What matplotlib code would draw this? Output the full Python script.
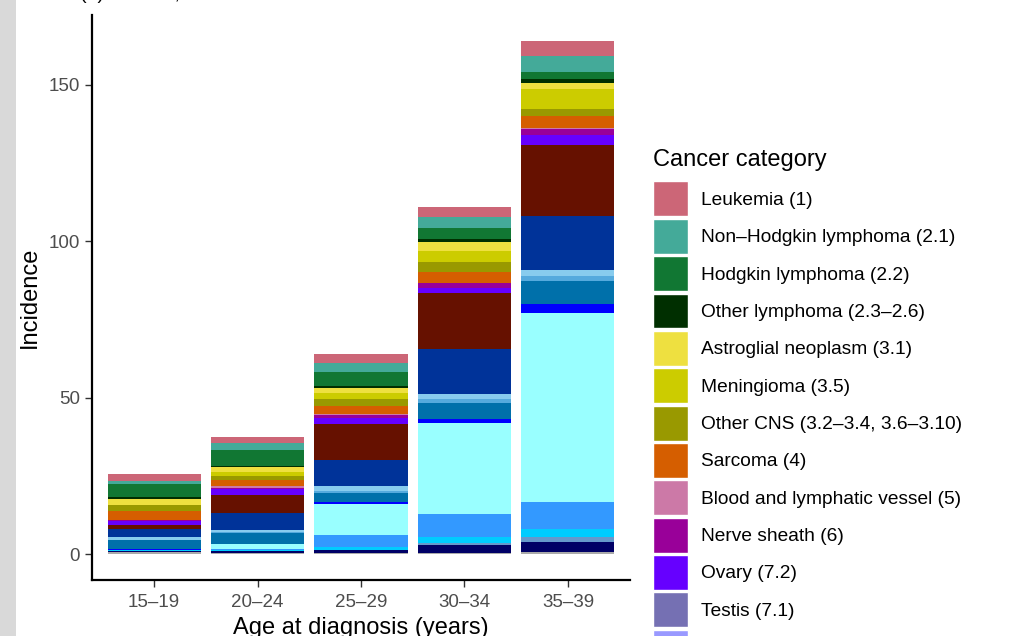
import numpy as np
import matplotlib.pyplot as plt
from matplotlib.patches import Rectangle, Patch

plt.rcParams['font.family'] = ['Liberation Sans', 'DejaVu Sans']

# grupos de edad
edades = ['15–19', '20–24', '25–29', '30–34', '35–39']

# categorías (de arriba hacia abajo en la pila)
categorias = [
    'Leukemia (1)', 'Non–Hodgkin lymphoma (2.1)', 'Hodgkin lymphoma (2.2)',
    'Other lymphoma (2.3–2.6)', 'Astroglial neoplasm (3.1)', 'Meningioma (3.5)',
    'Other CNS (3.2–3.4, 3.6–3.10)', 'Sarcoma (4)', 'Blood and lymphatic vessel (5)',
    'Nerve sheath (6)', 'Ovary (7.2)', 'Testis (7.1)', 'Other germ cell (7.3)',
    'Thyroid carcinoma (8.1)', 'Melanoma (9)', 'Head and neck carcinoma (8.2)',
    'Lung carcinoma (8.3)', 'Cervix carcinoma (8.4)', 'Bladder carcinoma (8.5)',
    'Breast carcinoma (8.6)', 'Colorectal carcinoma (8.7)', 'Stomach carcinoma (8.8)',
    'Other carcinoma (8.9)', 'Miscellaneous (10)', 'Unspecified (11)',
]

colores = [
    '#CC6677', '#44AA99', '#117733', '#002F00', '#EEE040', '#CCCC00',
    '#999900', '#D55E00', '#CC79A7', '#990099', '#6600FF', '#7570B3', '#9999FF',
    '#661100', '#003399', '#88CCEE', '#55AADD', '#0070AA', '#0000FF',
    '#99FFFF', '#3399FF', '#00CCFF', '#6699CC', '#000066', '#AAAAAA',
]

# incidencia por grupo de edad
leukemia = [2.4, 2.1, 2.8, 3.4, 4.8]
nhl = [1.05, 2.3, 2.9, 3.5, 5.3]
hodgkin = [4.0, 5.1, 4.5, 3.6, 2.3]
otra_linfoma = [0.75, 0.3, 0.5, 0.85, 1.05]
astroglial = [1.8, 1.6, 1.9, 2.9, 2.1]
meningioma = [0.2, 1.05, 1.8, 3.5, 6.2]
otro_snc = [1.9, 1.4, 2.2, 3.0, 2.3]
sarcoma = [2.65, 2.0, 2.5, 3.6, 3.8]
vaso = [0.1, 0.6, 0.3, 0.2, 0.5]
nervio = [0.3, 0.3, 1.05, 1.4, 1.9]
ovario = [1.3, 2.0, 2.0, 1.7, 3.2]
testiculo = [0, 0, 0, 0, 0]
otro_germinal = [0, 0, 0, 0, 0]
tiroides = [1.3, 5.6, 11.3, 17.9, 22.7]
melanoma = [2.65, 5.3, 8.5, 14.3, 17.0]
cabeza_cuello = [0.85, 0.85, 1.5, 1.7, 2.1]
pulmon = [0.1, 0.4, 0.5, 1.3, 1.6]
cervix = [2.65, 3.2, 3.0, 4.9, 7.4]
vejiga = [0.4, 0.2, 0.5, 1.5, 2.9]
mama = [0.1, 1.7, 10.1, 28.9, 60.3]
colorrectal = [0.0, 0.1, 3.9, 7.5, 8.5]
estomago = [0.1, 0.4, 0.85, 1.8, 2.7]
otro_carcinoma = [0.1, 0.1, 0.1, 0.6, 1.6]
miscelaneo = [0.4, 0.65, 0.75, 2.5, 3.2]
no_especificado = [0.7, 0.3, 0.5, 0.5, 0.6]

valores = [leukemia, nhl, hodgkin, otra_linfoma, astroglial, meningioma, otro_snc,
           sarcoma, vaso, nervio, ovario, testiculo, otro_germinal, tiroides, melanoma,
           cabeza_cuello, pulmon, cervix, vejiga, mama, colorrectal, estomago,
           otro_carcinoma, miscelaneo, no_especificado]

fig = plt.figure(figsize=(10.28, 6.36), dpi=100)
fig.patches.append(Rectangle((0, 0), 16 / 1028, 1, transform=fig.transFigure,
                             facecolor='#D9D9D9', edgecolor='none', zorder=0))
fig.text(80 / 1028, 1 + 1 / 636, '(b) Female, incidence', fontsize=14,
         va='baseline', ha='left', color='black')

ax = fig.add_axes([92 / 1028, 56 / 636, 538 / 1028, 565 / 636])
x = np.arange(len(edades))
base = np.zeros(len(edades))
# apilar desde abajo (última categoría) hacia arriba
for nombre, color, vals in zip(categorias[::-1], colores[::-1], valores[::-1]):
    ax.bar(x, vals, bottom=base, width=0.9, color=color, linewidth=0)
    base += np.array(vals)

ax.set_xlim(-0.6, len(edades) - 0.4)
ax.set_ylim(-8.2, 172.2)
ax.set_xticks(x)
ax.set_xticklabels(edades)
ax.set_yticks([0, 50, 100, 150])
ax.tick_params(axis='both', labelsize=13.5, labelcolor='#4D4D4D', color='#333333',
               length=5, width=1)
ax.tick_params(axis='x', pad=5)
for s in ['top', 'right']:
    ax.spines[s].set_visible(False)
for s in ['left', 'bottom']:
    ax.spines[s].set_linewidth(1.6)
ax.set_xlabel('Age at diagnosis (years)', fontsize=17, labelpad=4.5)
ax.set_ylabel('Incidence', fontsize=17, labelpad=6)

handles = [Patch(facecolor=c, edgecolor='white', linewidth=1) for c in colores]
leg = fig.legend(handles, categorias, loc='upper left',
                 bbox_to_anchor=(653 / 1028, 1 - 149 / 636), frameon=False,
                 title='Cancer category', fontsize=13.8, title_fontsize=17,
                 handlelength=1.83, handleheight=2.43, labelspacing=0.125,
                 handletextpad=0.68, borderpad=0, borderaxespad=0)
leg._legend_box.align = 'left'
leg._legend_box.sep = 7.5  # separación entre título y entradas

fig.savefig('out.png', dpi=100)
